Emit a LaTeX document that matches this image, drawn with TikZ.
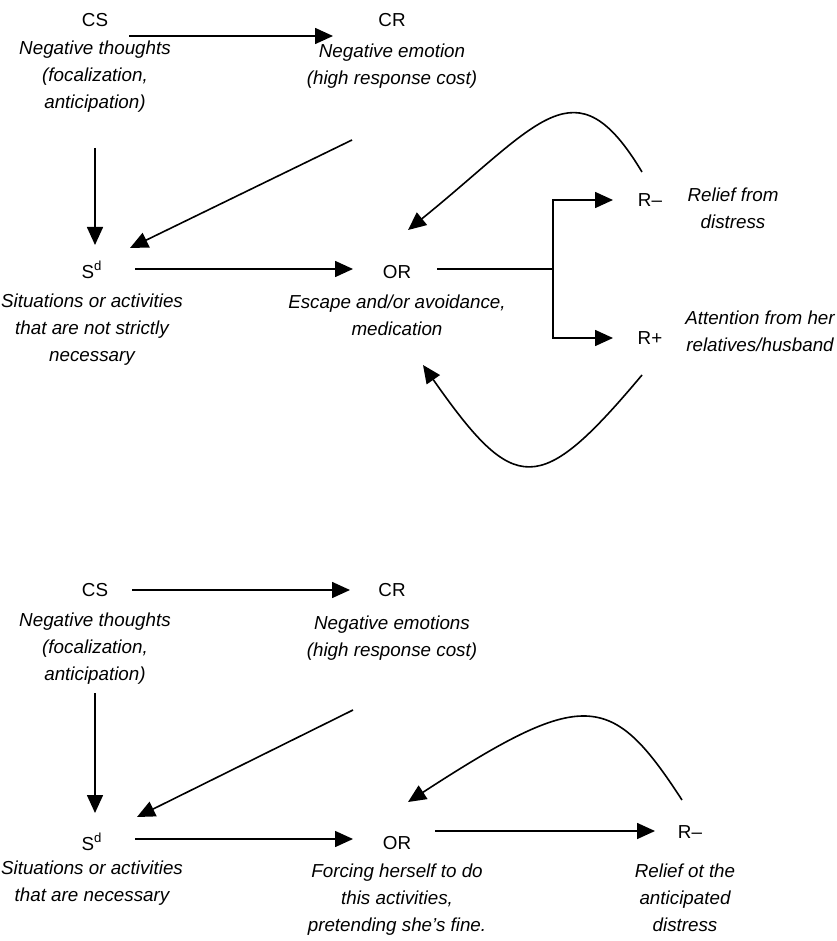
\documentclass[tikz,border=0pt]{standalone}
\usepackage{fontspec}
\setmainfont{Liberation Sans}
\usetikzlibrary{arrows.meta,positioning}

\begin{document}
\begin{tikzpicture}[->,>={Triangle[length=9pt,width=8pt]},x=0.5pt,y=-0.5pt,line width=0.8pt]
\tikzstyle{lbl}=[font=\fontsize{9.4}{13.5}\selectfont, inner sep=0pt, align=center]
\tikzstyle{desc}=[lbl, font=\fontsize{9.4}{13.5}\selectfont\itshape]

\useasboundingbox (0,0) rectangle (836,941);

% first scheme
\node[lbl]  (A) at (95,20)   {CS};
\node[desc] (Ad) [below of=A,node distance=28.25pt] {Negative thoughts\\(focalization,\\anticipation)};
\node[lbl]  (B) at (392,20)  {CR};
\node[desc] (Bd) [below of=B,node distance=23pt] {Negative emotion\\(high response cost)};
\node[lbl]  (C) at (92,270)  {S\textsuperscript{d}};
\node[desc] (Cd) [below of=C,node distance=30pt] {Situations or activities\\that are not strictly\\necessary};
\node[lbl]  (D) at (397,272) {OR};
\node[desc] (Dd) [below of=D,node distance=21.5pt] {Escape and/or avoidance,\\medication};
\node[lbl]  (E) at (650,200) {R--};
\node[desc] (Ed) at (733,208.5) {Relief from\\distress};
\node[lbl]  (F) at (650,338) {R+};
\node[desc] (Fd) at (760,331.5) {Attention from her\\relatives/husband};
\coordinate (J) at (553,269);

\path
([shift={(34,16)}]A.center) edge ([shift={(-59,16)}]B.center)
([shift={(0,128)}]A.center) edge ([shift={(3,-25)}]C.center)
([shift={(-40,120)}]B.center) edge ([shift={(38,-22)}]C.center)
([shift={(43,-1)}]C.center) edge ([shift={(-44,-3)}]D.center)
([shift={(-8,-28)}]E.center) edge[out=121,in=39,out distance=65pt,in distance=85pt] ([shift={(11,-42)}]D.center)
([shift={(-8,37)}]F.center) edge[out=230,in=305,out distance=80pt,in distance=80pt] ([shift={(26,93)}]D.center)
;
\draw[-] ([shift={(40,-3)}]D.center) -- (J);
\draw (J) |- ([shift={(-37,0)}]E.center);
\draw (J) |- ([shift={(-37,0)}]F.center);

% second scheme
\node[lbl]  (G) at (95,590)  {CS};
\node[desc] (Gd) [below of=G,node distance=29.5pt] {Negative thoughts\\(focalization,\\anticipation)};
\node[lbl]  (H) at (392,590) {CR};
\node[desc] (Hd) [below of=H,node distance=24pt] {Negative emotions\\(high response cost)};
\node[lbl]  (I) at (92,842)  {S\textsuperscript{d}};
\node[desc] (Id) [below of=I,node distance=20.75pt] {Situations or activities\\that are necessary};
\node[lbl]  (K) at (397,843) {OR};
\node[desc] (Kd) [below of=K,node distance=28.5pt] {Forcing herself to do\\this activities,\\pretending she’s fine.};
\node[lbl]  (L) at (690,832) {R--};
\node[desc] (Ld) at (685,897.5) {Relief ot the\\anticipated\\distress};

\path
([shift={(37,0)}]G.center) edge ([shift={(-42,0)}]H.center)
([shift={(0,103)}]G.center) edge ([shift={(3,-29)}]I.center)
([shift={(-39,120)}]H.center) edge ([shift={(45,-25)}]I.center)
([shift={(43,-3)}]I.center) edge ([shift={(-44,-4)}]K.center)
([shift={(38,-12)}]K.center) edge ([shift={(-35,-1)}]L.center)
([shift={(-8,-32)}]L.center) edge[out=123,in=33,out distance=65pt,in distance=105pt] ([shift={(11,-41)}]K.center)
;
\end{tikzpicture}
\end{document}
